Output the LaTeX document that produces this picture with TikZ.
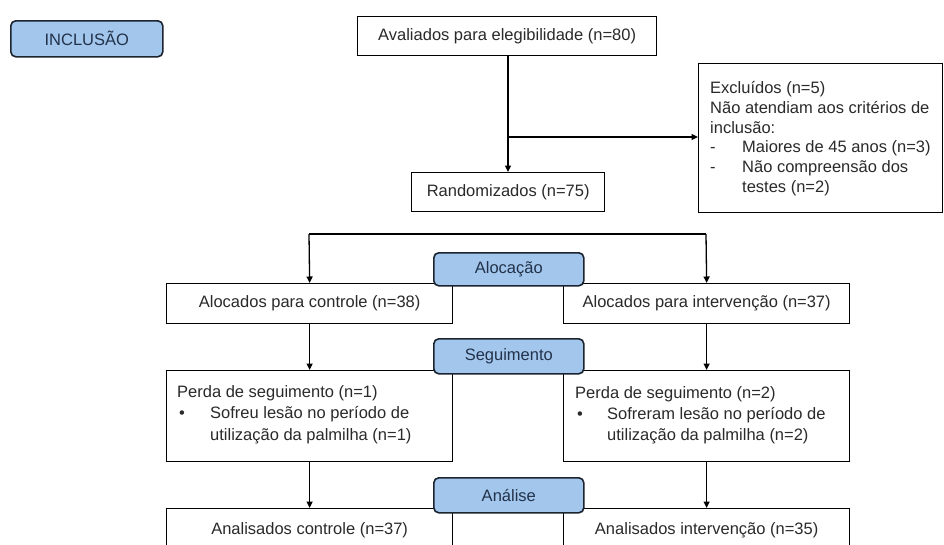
\documentclass[tikz,border=0pt]{standalone}
\usepackage{fontspec}
\setmainfont{Liberation Sans}
\usetikzlibrary{arrows.meta}
\definecolor{hdrfill}{HTML}{A3C6EC}
\definecolor{hdrtext}{HTML}{22324A}
\definecolor{hdrline}{HTML}{1C2430}
\definecolor{txt}{HTML}{2A2A2A}
\begin{document}
\begin{tikzpicture}[x=1pt,y=-1pt,
  box/.style={draw=black, line width=1.3pt, fill=white, text=txt,
    font=\fontsize{16.5}{19.7}\selectfont, inner sep=0pt, anchor=north west},
  hdr/.style={draw=hdrline, line width=1.6pt, rounded corners=5pt, fill=hdrfill,
    text=hdrtext, font=\fontsize{16.5}{19.7}\selectfont, inner sep=0pt, anchor=north west},
  ltext/.style={text=txt, align=left, inner sep=0pt, anchor=west},
  conn/.style={line width=1.3pt, draw=black},
  arr/.style={conn, -{Triangle[length=6.5pt,width=6pt]}}]
\useasboundingbox[fill=white] (0,0) rectangle (944,544);

% boxes
\node[hdr, minimum width=152pt, minimum height=36pt] (incl) at (10,20) {INCLUSÃO};
\node[box, minimum width=299pt, minimum height=39pt] (aval) at (357,16) {Avaliados para elegibilidade (n=80)};
\node[box, minimum width=193pt, minimum height=39pt] (rand) at (411,172) {Randomizados (n=75)};
\node[box, minimum width=244pt, minimum height=149pt] (excl) at (698,63) {};
\node[ltext, font=\fontsize{16.5}{19.7}\selectfont] (exclt) at ([xshift=12pt,yshift=-0.5pt]excl.west)
  {Excluídos (n=5)\\Não atendiam aos critérios de\\inclusão:\\
   \makebox[32pt][l]{-}Maiores de 45 anos (n=3)\\
   \makebox[32pt][l]{-}Não compreensão dos\\
   \hspace*{32pt}testes (n=2)};

\node[box, minimum width=286pt, minimum height=40pt] (ctrl) at (166,283) {Alocados para controle (n=38)};
\node[box, minimum width=286pt, minimum height=40pt] (intv) at (563,283) {Alocados para intervenção (n=37)};

\node[box, minimum width=286pt, minimum height=91pt] (perdL) at (166,370) {};
\node[ltext, font=\fontsize{16.5}{21.5}\selectfont] (perdLt) at ([xshift=11pt,yshift=1.5pt]perdL.west)
  {Perda de seguimento (n=1)\\
   \makebox[33pt][l]{\hspace*{2pt}•}Sofreu lesão no período de\\
   \hspace*{33pt}utilização da palmilha (n=1)};
\node[box, minimum width=286pt, minimum height=91pt] (perdR) at (563,370) {};
\node[ltext, font=\fontsize{16.5}{21pt}\selectfont] (perdRt) at ([xshift=12pt,yshift=1pt]perdR.west)
  {Perda de seguimento (n=2)\\
   \makebox[32pt][l]{\hspace*{2pt}•}Sofreram lesão no período de\\
   \hspace*{32pt}utilização da palmilha (n=2)};

\node[box, minimum width=286pt, minimum height=44pt] (analL) at (166,508) {Analisados controle (n=37)};
\node[box, minimum width=286pt, minimum height=44pt] (analR) at (563,508) {Analisados intervenção (n=35)};

% phase headers
\node[hdr, minimum width=150pt, minimum height=33pt] (aloc) at (433,252) {Alocação};
\node[hdr, minimum width=150pt, minimum height=35pt] (seg) at (433,338) {Seguimento};
\node[hdr, minimum width=150pt, minimum height=35pt] (anal) at (433,477) {Análise};

% connectors
\coordinate (top) at (508,55);
\coordinate (br) at (508,137);
\coordinate (aL) at (309,234);
\coordinate (aR) at (706,234);
\draw[arr] (top) -- (top |- rand.north);
\draw[arr] (br) -- (br -| excl.west);
\draw[conn] (aL) -- (aR);
\draw[arr] (aL) -- (ctrl.north);
\draw[arr] (aR) -- (intv.north);
\draw[arr] (ctrl.south) -- (perdL.north);
\draw[arr] (intv.south) -- (perdR.north);
\draw[arr] (perdL.south) -- (analL.north);
\draw[arr] (perdR.south) -- (analR.north);
\end{tikzpicture}
\end{document}
